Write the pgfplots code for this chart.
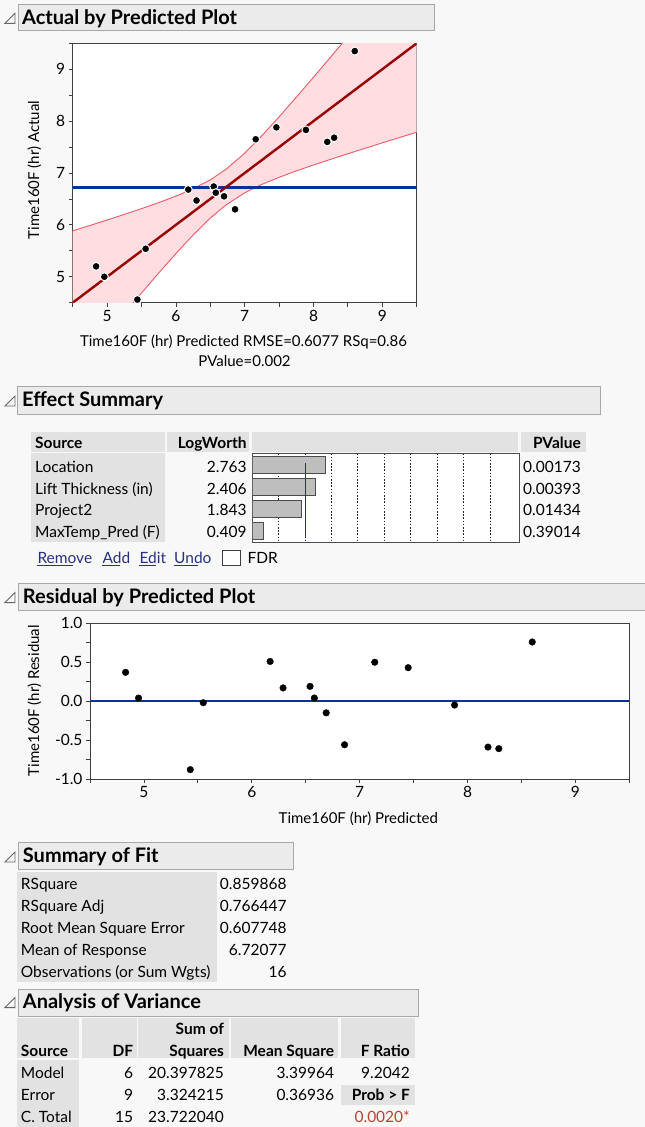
\documentclass[border=0pt]{standalone}
\usepackage{pgfplots}
\pgfplotsset{compat=1.18}
\usepackage{fontspec}
\setmainfont{Lato}
\definecolor{bg}{HTML}{F8F8F8}
\definecolor{hdr}{HTML}{EBEBEB}
\definecolor{hdrb}{HTML}{A8A8A8}
\definecolor{cell}{HTML}{E2E2E2}
\definecolor{band}{HTML}{FFDDE1}
\definecolor{bandline}{HTML}{EE5A66}
\definecolor{fitred}{HTML}{990000}
\definecolor{meanblue}{HTML}{0A2FA0}
\definecolor{linkblue}{HTML}{28327F}
\definecolor{pred}{HTML}{B5452F}
\definecolor{barfill}{HTML}{BEBEBE}
\definecolor{navyline}{HTML}{2828A0}
\newcommand{\tf}{\fontsize{15.5}{18}\selectfont}
\newcommand{\lf}{\fontsize{15}{18}\selectfont}
\newcommand{\hf}{\fontsize{20}{24}\selectfont\bfseries}
\newcommand{\disc}[1]{\draw[black!60, line width=0.9pt] (5,#1-0.7) -- (15,#1-10.7) -- (15,#1-0.7) -- cycle;}

\pgfplotstableread{
x y
4.84 5.20
4.96 5.00
5.44 4.56
5.56 5.54
6.18 6.68
6.30 6.47
6.55 6.74
6.58 6.62
6.70 6.55
6.86 6.30
7.16 7.65
7.46 7.88
7.89 7.83
8.20 7.60
8.30 7.68
8.60 9.35
}\actpred

\pgfplotstableread{
x r
4.83 0.37
4.95 0.04
5.43 -0.88
5.55 -0.02
6.17 0.51
6.29 0.17
6.54 0.19
6.58 0.04
6.69 -0.15
6.86 -0.56
7.14 0.50
7.45 0.43
7.88 -0.05
8.19 -0.59
8.29 -0.61
8.60 0.76
}\resid

\begin{document}
\begin{tikzpicture}[x=1pt,y=-1pt]
\fill[bg] (0,0) rectangle (645,1127);
\useasboundingbox (0,0) rectangle (645,1127);

% ---------------- Actual by Predicted ----------------
\draw[fill=hdr, draw=hdrb, line width=0.9pt] (18.3,4) rectangle (434.3,30.7);
\disc{24}
\node[anchor=base west, inner sep=0pt, font=\hf] at (22,24) {Actual by Predicted Plot};

\begin{axis}[at={(72.7pt,-43.3pt)}, anchor=north west, scale only axis,
  width=344pt, height=259.4pt,
  xmin=4.5, xmax=9.5, ymin=4.5, ymax=9.5,
  xtick={5,6,7,8,9}, xticklabels={5,6,7,8,9},
  minor xtick={4.5,5.5,6.5,7.5,8.5,9.5},
  ytick={5,6,7,8,9}, yticklabels={5,6,7,8,9},
  minor ytick={4.5,5.5,6.5,7.5,8.5,9.5},
  tick align=outside, xtick pos=left, ytick pos=left,
  major tick length=4pt, minor tick length=4pt,
  every tick/.style={black!75, line width=0.8pt},
  axis line style={black!75, line width=0.8pt},
  ticklabel style={font=\tf},
  axis background/.style={fill=white}]
\addplot[fill=band, draw=none] coordinates {
 (4.5,5.884) (4.75,5.989) (5,6.094) (5.25,6.202) (5.5,6.313) (5.75,6.429) (6,6.554) (6.25,6.695) (6.5,6.868) (6.72,7.063) (7,7.382) (7.25,7.719) (7.5,8.083) (7.75,8.461) (8,8.846) (8.25,9.236) (8.5,9.629) (8.75,10.02) (9,10.42) (9.25,10.82) (9.5,11.21)
 (9.5,7.786) (9.25,7.684) (9,7.581) (8.75,7.476) (8.5,7.371) (8.25,7.264) (8,7.154) (7.75,7.040) (7.5,6.917) (7.25,6.781) (7,6.618) (6.72,6.377) (6.5,6.132) (6.25,5.805) (6,5.446) (5.75,5.071) (5.5,4.687) (5.25,4.298) (5,3.906) (4.75,3.511) (4.5,3.116)} -- cycle;
\addplot[bandline, line width=0.9pt] coordinates {
 (4.5,5.884) (4.75,5.989) (5,6.094) (5.25,6.202) (5.5,6.313) (5.75,6.429) (6,6.554) (6.25,6.695) (6.5,6.868) (6.72,7.063) (7,7.382) (7.25,7.719) (7.5,8.083) (7.75,8.461) (8,8.846) (8.25,9.236) (8.5,9.629) (8.75,10.02) (9,10.42) (9.25,10.82) (9.5,11.21)};
\addplot[bandline, line width=0.9pt] coordinates {
 (4.5,3.116) (4.75,3.511) (5,3.906) (5.25,4.298) (5.5,4.687) (5.75,5.071) (6,5.446) (6.25,5.805) (6.5,6.132) (6.72,6.377) (7,6.618) (7.25,6.781) (7.5,6.917) (7.75,7.040) (8,7.154) (8.25,7.264) (8.5,7.371) (8.75,7.476) (9,7.581) (9.25,7.684) (9.5,7.786)};
\addplot[meanblue, line width=2.4pt] coordinates {(4.5,6.7208) (9.5,6.7208)};
\addplot[fitred, line width=2.4pt] coordinates {(4.5,4.5) (9.5,9.5)};
\addplot[only marks, mark=*, mark size=4pt, mark options={fill=black, draw=white, line width=1pt}] table[x=x, y=y] {\actpred};
\end{axis}
\node[rotate=90, font=\lf, inner sep=0pt] at (34.3,170) {Time160F (hr) Actual};
\node[anchor=base, font=\lf, inner sep=0pt] at (243.5,346.7) {Time160F (hr) Predicted RMSE=0.6077 RSq=0.86};
\node[anchor=base, font=\lf, inner sep=0pt] at (244.5,366.7) {PValue=0.002};

% ---------------- Effect Summary ----------------
\draw[fill=hdr, draw=hdrb, line width=0.9pt] (17.3,386) rectangle (600,414);
\disc{406.7}
\node[anchor=base west, inner sep=0pt, font=\hf] at (22,406.7) {Effect Summary};

\fill[cell] (30.7,431.7) rectangle (165,451.7);
\fill[cell] (166.7,431.7) rectangle (249.3,451.7);
\fill[cell] (252.3,431.7) rectangle (518.3,451.7);
\fill[cell] (520.7,431.7) rectangle (585.7,451.7);
\fill[cell] (30.7,452.7) rectangle (165,541.7);
\node[anchor=base west, inner sep=0pt, font=\tf\bfseries] at (35,448.3) {Source};
\node[anchor=base east, inner sep=0pt, font=\tf\bfseries] at (246.7,448.3) {LogWorth};
\node[anchor=base east, inner sep=0pt, font=\tf\bfseries] at (581,448.3) {PValue};
\foreach \lab/\lw/\pv/\yy in {Location/2.763/0.00173/472.3, Lift Thickness (in)/2.406/0.00393/494.0, Project2/1.843/0.01434/515.7, MaxTemp\_Pred (F)/0.409/0.39014/537.3}{
  \node[anchor=base west, inner sep=0pt, font=\tf] at (35,\yy) {\lab};
  \node[anchor=base east, inner sep=0pt, font=\tf] at (246.7,\yy) {\lw};
  \node[anchor=base east, inner sep=0pt, font=\tf] at (581,\yy) {\pv};
}

\begin{axis}[at={(252.3pt,-453.3pt)}, anchor=north west, scale only axis,
  width=267pt, height=89pt,
  xmin=0, xmax=10.11, ymin=0.47, ymax=4.53, y dir=reverse,
  xtick={1,2,3,4,5,6,7,8,9}, xticklabels={}, ytick=\empty,
  major tick length=0pt, xmajorgrids,
  grid style={black!85, line width=0.9pt, dash pattern=on 1.6pt off 1.6pt},
  axis line style={black!70, line width=0.9pt},
  axis background/.style={fill=white}]
\addplot[xbar, bar width=17pt, bar shift=0pt, fill=barfill, draw=black!70, line width=0.8pt] coordinates {(2.763,1) (2.406,2) (1.843,3) (0.409,4)};
\addplot[sharp plot, navyline, line width=1.1pt] coordinates {(2,0.91) (2,4.27)};
\end{axis}

\foreach \w/\xx in {Remove/37.3, Add/102.3, Edit/139.3, Undo/174}{
  \node[anchor=base west, inner sep=0pt, font=\tf, text=linkblue] (lk) at (\xx,563.3) {\w};
  \draw[linkblue, line width=0.8pt] (lk.base west) ++(0,2) -- ++({width("\w")},0);
}
\draw[fill=white, draw=black!75, line width=0.9pt] (222.3,550.7) rectangle (240,565);
\node[anchor=base west, inner sep=0pt, font=\tf] at (247.3,563.3) {FDR};

% ---------------- Residual by Predicted ----------------
\draw[fill=hdr, draw=hdrb, line width=0.9pt] (18.3,583.3) rectangle (648,610.7);
\disc{603.3}
\node[anchor=base west, inner sep=0pt, font=\hf] at (22.7,603.3) {Residual by Predicted Plot};

\begin{axis}[at={(90pt,-623.3pt)}, anchor=north west, scale only axis,
  width=539.3pt, height=155.7pt,
  xmin=4.5, xmax=9.5, ymin=-1, ymax=1,
  xtick={5,6,7,8,9}, xticklabels={5,6,7,8,9},
  minor xtick={4.5,5.5,6.5,7.5,8.5,9.5},
  ytick={-1,-0.5,0,0.5,1}, yticklabels={-1.0,-0.5,0.0,0.5,1.0},
  minor ytick={-0.75,-0.25,0.25,0.75},
  tick align=outside, xtick pos=left, ytick pos=left,
  major tick length=4pt, minor tick length=4pt,
  every tick/.style={black!75, line width=0.8pt},
  axis line style={black!75, line width=0.8pt},
  ticklabel style={font=\tf},
  axis background/.style={fill=white}]
\addplot[meanblue, line width=2.4pt] coordinates {(4.5,0) (9.5,0)};
\addplot[only marks, mark=*, mark size=3.3pt, mark options={fill=black, draw=black}] table[x=x, y=r] {\resid};
\end{axis}
\node[rotate=90, font=\lf, inner sep=0pt] at (34.3,700.8) {Time160F (hr) Residual};
\node[anchor=base, font=\lf, inner sep=0pt] at (358.3,823.3) {Time160F (hr) Predicted};

% ---------------- Summary of Fit ----------------
\draw[fill=hdr, draw=hdrb, line width=0.9pt] (18.3,842.7) rectangle (293.3,869.3);
\disc{862.7}
\node[anchor=base west, inner sep=0pt, font=\hf] at (22.7,862.7) {Summary of Fit};
\fill[cell] (16.7,871.7) rectangle (216.7,981.7);
\foreach \lab/\val/\yy in {RSquare/0.859868/889.3, RSquare Adj/0.766447/911.5, Root Mean Square Error/0.607748/933.7, Mean of Response/6.72077/955.8, Observations (or Sum Wgts)/16/977.7}{
  \node[anchor=base west, inner sep=0pt, font=\tf] at (20.7,\yy) {\lab};
  \node[anchor=base east, inner sep=0pt, font=\tf] at (286.7,\yy) {\val};
}

% ---------------- Analysis of Variance ----------------
\draw[fill=hdr, draw=hdrb, line width=0.9pt] (18.3,989.3) rectangle (418.3,1016);
\disc{1008.3}
\node[anchor=base west, inner sep=0pt, font=\hf] at (22.7,1008.3) {Analysis of Variance};
\fill[cell] (16.7,1018.3) rectangle (79.3,1058.3);
\fill[cell] (81.7,1018.3) rectangle (136.7,1058.3);
\fill[cell] (138.3,1018.3) rectangle (229.3,1058.3);
\fill[cell] (231,1018.3) rectangle (338.3,1058.3);
\fill[cell] (340.7,1018.3) rectangle (415,1058.3);
\fill[cell] (16.7,1060) rectangle (79.3,1127);
\fill[cell] (340.7,1085) rectangle (415,1105);
\node[anchor=base west, inner sep=0pt, font=\tf\bfseries] at (20.7,1056) {Source};
\node[anchor=base east, inner sep=0pt, font=\tf\bfseries] at (133.3,1056) {DF};
\node[anchor=base east, inner sep=0pt, font=\tf\bfseries] at (224,1034.3) {Sum of};
\node[anchor=base east, inner sep=0pt, font=\tf\bfseries] at (224,1056) {Squares};
\node[anchor=base east, inner sep=0pt, font=\tf\bfseries] at (334.3,1056) {Mean Square};
\node[anchor=base east, inner sep=0pt, font=\tf\bfseries] at (410,1056) {F Ratio};
\foreach \lab/\df/\ss/\ms/\yy in {Model/6/20.397825/3.39964/1078.3, Error/9/3.324215/0.36936/1100.5, C. Total/15/23.722040//1122.7}{
  \node[anchor=base west, inner sep=0pt, font=\tf] at (20.7,\yy) {\lab};
  \node[anchor=base east, inner sep=0pt, font=\tf] at (133.3,\yy) {\df};
  \node[anchor=base east, inner sep=0pt, font=\tf] at (224,\yy) {\ss};
  \node[anchor=base east, inner sep=0pt, font=\tf] at (334.3,\yy) {\ms};
}
\node[anchor=base east, inner sep=0pt, font=\tf] at (410,1078.3) {9.2042};
\node[anchor=base east, inner sep=0pt, font=\tf\bfseries] at (410,1100.5) {Prob > F};
\node[anchor=base east, inner sep=0pt, font=\tf, text=pred] at (410,1122.7) {0.0020*};
\end{tikzpicture}
\end{document}
